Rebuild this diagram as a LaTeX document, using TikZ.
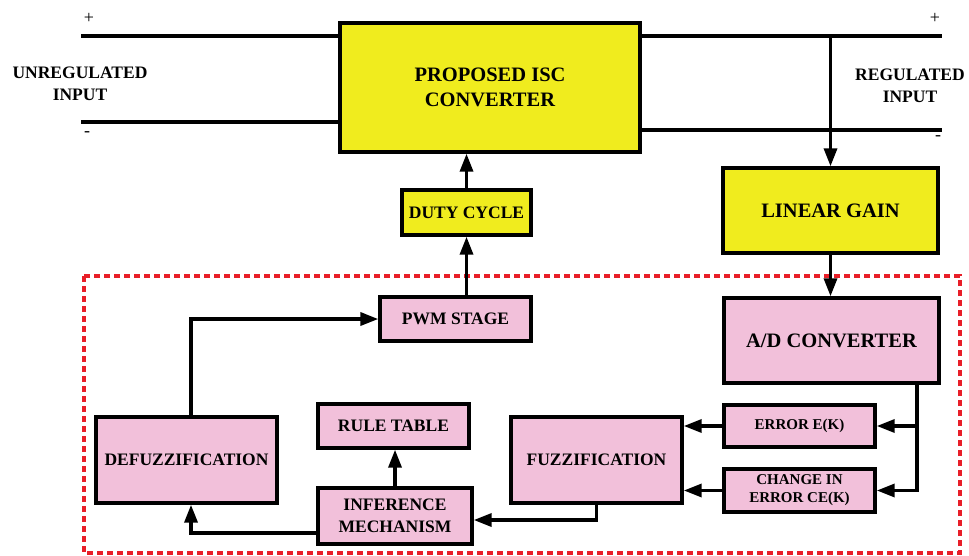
\documentclass[tikz,border=0pt]{standalone}
\usepackage{fontspec}
\setmainfont{Liberation Serif}
\usetikzlibrary{arrows.meta}
\definecolor{boxyellow}{RGB}{240,236,30}
\definecolor{boxpink}{RGB}{242,192,218}
\definecolor{ctrlred}{RGB}{232,30,40}
\tikzset{
  box/.style={draw=black, line width=3.4pt, rectangle, align=center, inner sep=0pt,
    font=\bfseries, text=black},
  ybox/.style={box, fill=boxyellow},
  pbox/.style={box, fill=boxpink},
  big/.style={font=\fontsize{20.5}{25}\selectfont\bfseries},
  mid/.style={font=\fontsize{17.5}{22}\selectfont\bfseries},
  small/.style={font=\fontsize{15}{18}\selectfont\bfseries},
  wire/.style={line width=3.4pt, line cap=rect},
  arr/.style={wire, -{Triangle[length=18pt,width=13pt]}},
  sign/.style={font=\fontsize{18}{18}\selectfont, inner sep=0pt},
}
\begin{document}
\begin{tikzpicture}[x=1pt, y=-1pt]
\useasboundingbox (0,0) rectangle (969,556);

% controller enclosure
\draw[ctrlred, line width=3.2pt, dash pattern=on 6pt off 4pt] (84,276) rectangle (960,553);

% power path
\node[ybox, big, minimum width=300pt, minimum height=129pt] (conv) at (490,87.5) {PROPOSED ISC\\CONVERTER};
\node[ybox, mid, minimum width=129pt, minimum height=45pt] (duty) at (466.5,212.5) {DUTY CYCLE};
\node[ybox, big, minimum width=215pt, minimum height=85pt] (lin) at (830.5,210.5) {LINEAR GAIN};

% fuzzy controller blocks
\node[pbox, mid, minimum width=151pt, minimum height=44pt] (pwm) at (455.5,319) {PWM STAGE};
\node[pbox, big, minimum width=215pt, minimum height=85pt] (adc) at (831.5,340.5) {A/D CONVERTER};
\node[pbox, small, minimum width=151pt, minimum height=42pt] (err) at (799.5,426) {ERROR E(K)};
\node[pbox, small, minimum width=151pt, minimum height=43pt] (chg) at (799.5,490.5) {CHANGE IN\\ERROR CE(K)};
\node[pbox, mid, minimum width=171pt, minimum height=86pt] (fuzz) at (596.5,460) {FUZZIFICATION};
\node[pbox, mid, minimum width=154pt, minimum height=56pt] (inf) at (395,516) {INFERENCE\\MECHANISM};
\node[pbox, mid, minimum width=151pt, minimum height=44pt] (rule) at (393.5,426) {RULE TABLE};
\node[pbox, mid, minimum width=181pt, minimum height=86pt] (def) at (186.5,460) {DEFUZZIFICATION};

% terminal labels
\node[mid, align=center, inner sep=0pt] (uin) at (80,84) {UNREGULATED\\INPUT};
\node[mid, align=center, inner sep=0pt] (rin) at (910,86) {REGULATED\\INPUT};
\node[sign] (lp) at (89,18) {+};
\node[sign] (lm) at (87,134) {-};
\node[sign] (rp) at (935,18) {+};
\node[sign] (rm) at (938,138) {-};

% input and output rails
\coordinate (ltop) at (83,36);
\coordinate (lbot) at (83,122);
\coordinate (rtop) at (940,36);
\coordinate (rbot) at (940,130);
\draw[wire] (ltop) -- (ltop -| conv.west);
\draw[wire] (lbot) -- (lbot -| conv.west);
\draw[wire] (rtop -| conv.east) -- (rtop);
\draw[wire] (rbot -| conv.east) -- (rbot);

% feedback sensing
\draw[arr] (rtop -| lin.north) -- (lin.north);
\draw[arr] (lin.south) -- (lin.south |- adc.north);
\draw[arr] ([xshift=85.5pt]adc.south) |- (err.east);
\draw[arr] ([xshift=85.5pt]adc.south) |- (chg.east);
\draw[arr] (err.west) -- (err.west -| fuzz.east);
\draw[arr] (chg.west) -- (chg.west -| fuzz.east);

% fuzzy inference chain
\draw[arr] (fuzz.south) |- ([yshift=-4pt]inf.east);
\draw[arr] (inf.north) -- (inf.north |- rule.south);
\draw[arr] ([yshift=-17pt]inf.west) -| ([xshift=4.5pt]def.south);
\draw[arr] ([xshift=4.5pt]def.north) |- (pwm.west);

% drive path back to the converter
\draw[arr] (pwm.north -| duty.south) -- (duty.south);
\draw[arr] (duty.north) -- (duty.north |- conv.south);
\end{tikzpicture}
\end{document}
